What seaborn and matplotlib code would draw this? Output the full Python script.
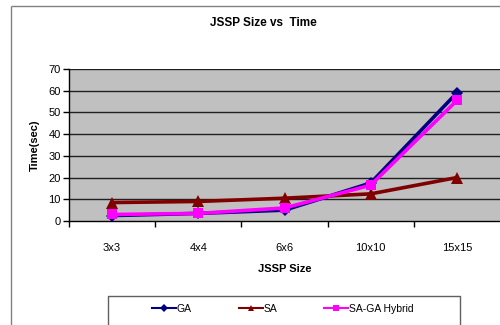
import matplotlib
matplotlib.use("Agg")
import matplotlib.pyplot as plt
import seaborn as sns
import pandas as pd
from matplotlib.lines import Line2D

sizes = ["3x3", "4x4", "6x6", "10x10", "15x15"]
ga_time = [2.5, 3.5, 5.0, 17.5, 59.0]
sa_time = [8.5, 9.0, 10.5, 12.5, 20.0]
hybrid_time = [3.0, 3.5, 6.0, 16.5, 55.5]
series_names = ["GA", "SA", "SA-GA Hybrid"]
y_ticks = [0, 10, 20, 30, 40, 50, 60, 70]

plt.rcParams['font.family'] = ['Liberation Sans', 'DejaVu Sans']

rows = []
for name, vals in zip(series_names, [ga_time, sa_time, hybrid_time]):
    for i, (s, v) in enumerate(zip(sizes, vals)):
        rows.append({"pos": i, "size": s, "time": v, "series": name})
df = pd.DataFrame(rows)

palette = {"GA": "#000080", "SA": "#800000", "SA-GA Hybrid": "#FF00FF"}
markers = {"GA": "D", "SA": "^", "SA-GA Hybrid": "s"}
msizes = {"GA": 6, "SA": 9, "SA-GA Hybrid": 7}

fig = plt.figure(figsize=(5, 3.25), dpi=100)

# outer chart border, cropped on right / bottom like the reference
top_y = 1 - 5.5 / 325
fig.add_artist(Line2D([10.5 / 500, 10.5 / 500], [0.001, top_y],
                      transform=fig.transFigure, color="#808080", lw=1.0,
                      solid_capstyle="butt"))
fig.add_artist(Line2D([10.5 / 500, 0.999], [top_y, top_y],
                      transform=fig.transFigure, color="#808080", lw=1.0,
                      solid_capstyle="butt"))

ax = fig.add_axes([69 / 500, 1 - 221 / 325, 431 / 500, 152 / 325])
ax.set_facecolor("#C0C0C0")

for t in y_ticks[1:]:
    ax.axhline(t, color="#202020", lw=1.0, zorder=1)

for name in series_names:
    sns.lineplot(data=df[df["series"] == name], x="pos", y="time",
                 color=palette[name], marker=markers[name], lw=2.6,
                 markersize=msizes[name], markeredgewidth=0, ax=ax, zorder=3)

ax.set_xlim(-0.5, 4.5)
ax.set_ylim(0, 70)
ax.set_yticks(y_ticks)
ax.set_yticklabels([str(t) for t in y_ticks], fontsize=8)
ax.set_xticks(range(len(sizes)))
ax.set_xticklabels(sizes, fontsize=8)
ax.tick_params(axis="x", length=0, pad=16)
# tick marks at category boundaries
ax.set_xticks([i - 0.5 for i in range(len(sizes))], minor=True)
ax.tick_params(axis="x", which="minor", length=4, width=1, color="black", direction="out")
ax.tick_params(axis="y", length=4, width=1, color="black", direction="out", pad=2)

for side in ["top", "right"]:
    ax.spines[side].set_visible(False)
for side in ["left", "bottom"]:
    ax.spines[side].set_color("black")
    ax.spines[side].set_linewidth(1.0)

ax.set_xlabel("JSSP Size", fontsize=8, fontweight="bold", labelpad=8)
ax.set_ylabel("Time(sec)", fontsize=8, fontweight="bold", labelpad=6)
fig.text(263 / 500, 1 - 23 / 325, "JSSP Size vs  Time", ha="center", va="center",
         fontsize=8.5, fontweight="bold")

# legend with its own box
handles = [Line2D([], [], color=palette[n], marker=markers[n], lw=1.5,
                  markersize=4, markeredgewidth=0) for n in series_names]
y_top = 1 - 295.5 / 325
fig.add_artist(Line2D([107.5 / 500, 107.5 / 500, 459.5 / 500, 459.5 / 500],
                      [0.001, y_top, y_top, 0.001],
                      transform=fig.transFigure, color="#606060", lw=1.0))
fig.legend(handles, series_names, loc="center", bbox_to_anchor=(283 / 500, 1 - 309 / 325),
           ncol=3, frameon=False, fontsize=7.5, handlelength=2.3, handletextpad=0.1,
           columnspacing=4.5)

fig.savefig("out.png", dpi=100)
